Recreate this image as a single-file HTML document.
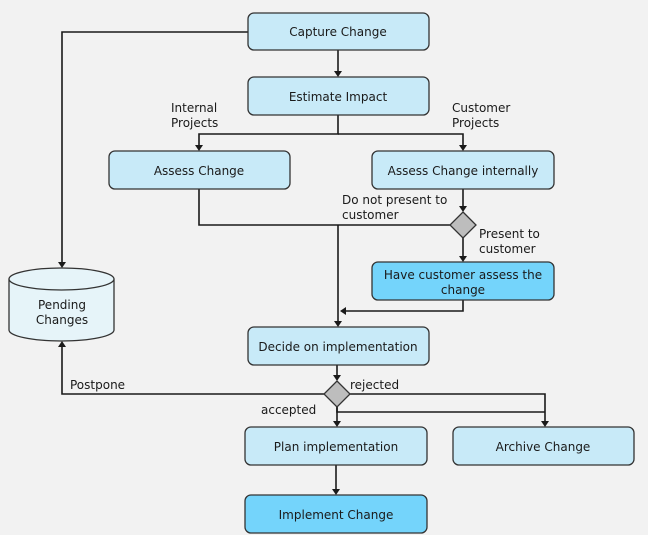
<!DOCTYPE html>
<html><head><meta charset="utf-8"><style>
html,body{margin:0;padding:0;background:#f2f2f2;}
svg{display:block;}
text{font-family:"DejaVu Sans","Liberation Sans",sans-serif;font-size:12px;fill:#1a1a1a;}
</style></head><body>
<svg width="648" height="535" viewBox="0 0 648 535" xmlns="http://www.w3.org/2000/svg">
<defs>
<marker id="a" markerWidth="8" markerHeight="8" refX="4" refY="7" orient="auto-start-reverse" markerUnits="userSpaceOnUse">
</marker>
</defs>
<rect width="648" height="535" fill="#f2f2f2"/>
<g fill="none" stroke="#1a1a1a" stroke-width="1.6">
<polyline points="248,32 62,32 62,262"/>
<line x1="338" y1="50" x2="338" y2="71"/>
<polyline points="338,115 338,134 199,134 199,145"/>
<polyline points="338,134 463,134 463,145"/>
<polyline points="199,189 199,225 450,225"/>
<line x1="463" y1="189" x2="463" y2="206"/>
<line x1="463" y1="238" x2="463" y2="256"/>
<line x1="338" y1="225" x2="338" y2="321"/>
<polyline points="463,300 463,311 346,311"/>
<line x1="337" y1="365" x2="337" y2="375"/>
<polyline points="324,394 62,394 62,347"/>
<polyline points="350,394 545,394 545,421"/>
<polyline points="337,407 337,412 545,412"/>
<line x1="337" y1="407" x2="337" y2="421"/>
<line x1="336" y1="465" x2="336" y2="489"/>
</g>
<g fill="#1a1a1a">
<polygon points="58,262 66,262 62,268"/>
<polygon points="334,71 342,71 338,77"/>
<polygon points="195,145 203,145 199,151"/>
<polygon points="459,145 467,145 463,151"/>
<polygon points="459,206 467,206 463,212"/>
<polygon points="459,256 467,256 463,262"/>
<polygon points="334,321 342,321 338,327"/>
<polygon points="346,307 346,315 340,311"/>
<polygon points="333,375 341,375 337,381"/>
<polygon points="58,347 66,347 62,341"/>
<polygon points="541,421 549,421 545,427"/>
<polygon points="333,421 341,421 337,427"/>
<polygon points="332,489 340,489 336,495"/>
</g>
<g stroke="#333" stroke-width="1.3">
<rect x="248" y="13" width="181" height="37" rx="6" fill="#c8eaf8"/>
<rect x="248" y="77" width="181" height="38" rx="6" fill="#c8eaf8"/>
<rect x="109" y="151" width="181" height="38" rx="6" fill="#c8eaf8"/>
<rect x="372" y="151" width="182" height="38" rx="6" fill="#c8eaf8"/>
<rect x="372" y="262" width="182" height="38" rx="6" fill="#74d4fb"/>
<rect x="248" y="327" width="181" height="38" rx="6" fill="#c8eaf8"/>
<rect x="245" y="427" width="182" height="38" rx="6" fill="#c8eaf8"/>
<rect x="453" y="427" width="181" height="38" rx="6" fill="#c8eaf8"/>
<rect x="245" y="495" width="182" height="38" rx="6" fill="#74d4fb"/>
<polygon points="463,212 476,225 463,238 450,225" fill="#bdbdbd"/>
<polygon points="337,381 350,394 337,407 324,394" fill="#bdbdbd"/>
<path d="M9,279 L9,330 A52.5,11 0 0 0 114,330 L114,279" fill="#e6f4f9"/>
<ellipse cx="61.5" cy="279" rx="52.5" ry="11" fill="#e6f4f9"/>
</g>
<g text-anchor="middle">
<text x="338" y="36">Capture Change</text>
<text x="338" y="101">Estimate Impact</text>
<text x="199" y="175">Assess Change</text>
<text x="463" y="175">Assess Change internally</text>
<text x="463" y="279">Have customer assess the</text>
<text x="463" y="294">change</text>
<text x="338" y="351">Decide on implementation</text>
<text x="336" y="451">Plan implementation</text>
<text x="543" y="451">Archive Change</text>
<text x="336" y="519">Implement Change</text>
<text x="62" y="309">Pending</text>
<text x="62" y="324">Changes</text>
</g>
<text x="171" y="112">Internal</text>
<text x="171" y="127">Projects</text>
<text x="452" y="112">Customer</text>
<text x="452" y="127">Projects</text>
<text x="342" y="204">Do not present to</text>
<text x="342" y="219">customer</text>
<text x="479" y="238">Present to</text>
<text x="479" y="253">customer</text>
<text x="70" y="389">Postpone</text>
<text x="350" y="389">rejected</text>
<text x="261" y="414">accepted</text>
</svg>
</body></html>
